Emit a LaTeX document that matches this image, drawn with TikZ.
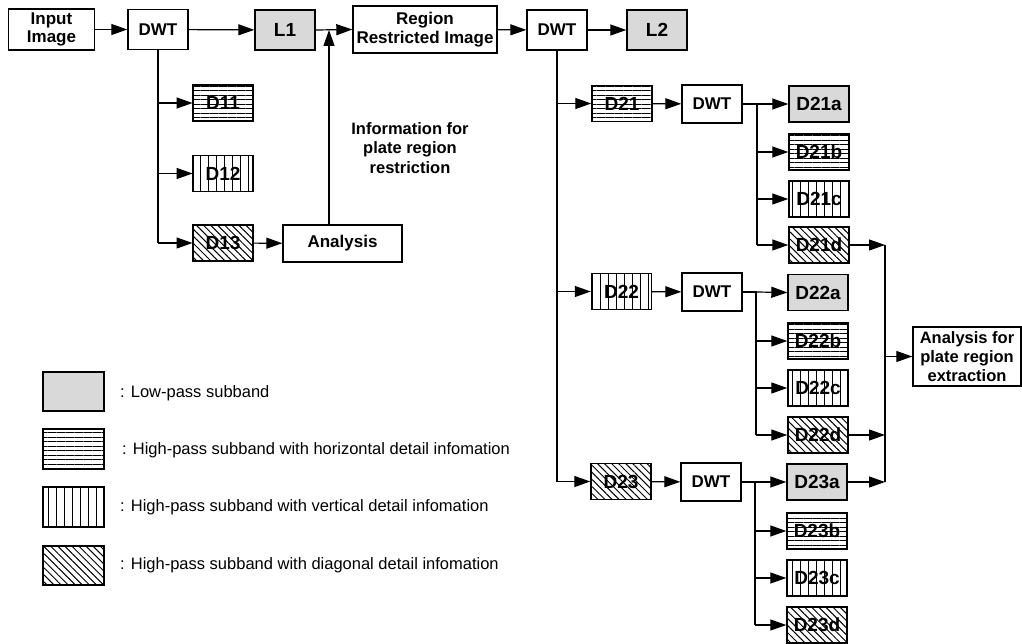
\documentclass[tikz,border=0pt]{standalone}
\usepackage{fontspec}
\setmainfont{Liberation Sans}
\usetikzlibrary{arrows.meta,patterns.meta}
\begin{document}
\begin{tikzpicture}[x=1pt,y=-1pt,
  box/.style={draw, line width=1.4pt, inner sep=0pt, align=center,
    font=\bfseries\fontsize{17}{18.5}\selectfont, fill=white},
  sub/.style={box, minimum width=60pt, minimum height=36pt, font=\bfseries\fontsize{19}{20}\selectfont},
  dwtbox/.style={box, minimum width=60pt, minimum height=38pt},
  lowp/.style={sub, fill=gray!30},
  hor/.style={sub, pattern={Lines[angle=0,distance=4.5pt,line width=0.8pt]}},
  ver/.style={sub, pattern={Lines[angle=90,distance=8pt,line width=0.8pt]}},
  diag/.style={sub, pattern={Lines[angle=-45,distance=5pt,line width=1pt]}},
  arr/.style={-{Triangle[length=16pt,width=11pt]}, line width=1.2pt},
  ln/.style={line width=1.2pt},
  legtext/.style={anchor=west, inner sep=0pt, font=\fontsize{16.5}{18}\selectfont},
  infotext/.style={align=center, inner sep=0pt, font=\bfseries\fontsize{16.5}{19.5}\selectfont}
]
\useasboundingbox (0,0) rectangle (1022,644);

% top row
\node[box, minimum width=86pt, minimum height=41pt] (in) at (51.5,29.5) {Input\\Image};
\node[dwtbox, minimum height=40pt] (dwt1) at (158,29.5) {DWT};
\node[lowp, minimum height=40pt] (l1) at (285,30) {L1};
\node[box, minimum width=144pt, minimum height=47pt] (reg) at (425,29.5) {Region\\Restricted Image};
\node[dwtbox, minimum height=40pt] (dwt2) at (557,30) {DWT};
\node[lowp, minimum height=40pt] (l2) at (657,30) {L2};

% first level details
\node[hor] (d11) at (223,103) {D11};
\node[ver] (d12) at (223,173.5) {D12};
\node[diag] (d13) at (223,243) {D13};
\node[box, minimum width=119pt, minimum height=37pt] (ana) at (342.5,243.5) {Analysis};
\node[infotext] (info) at (410,148) {Information for\\plate region\\restriction};
\coordinate (up) at (329,30);

% second level
\node[hor] (d21) at (622,103.5) {D21};
\node[dwtbox] (dwt3) at (712,104) {DWT};
\node[lowp] (d21a) at (819,104) {D21a};
\node[hor] (d21b) at (819,152) {D21b};
\node[ver] (d21c) at (819,199) {D21c};
\node[diag] (d21d) at (819,245) {D21d};

\node[ver] (d22) at (621.5,291.5) {D22};
\node[dwtbox] (dwt4) at (712,292) {DWT};
\node[lowp] (d22a) at (818,292.5) {D22a};
\node[hor] (d22b) at (818,341) {D22b};
\node[ver] (d22c) at (818,388) {D22c};
\node[diag] (d22d) at (818,435) {D22d};

\node[diag] (d23) at (621,481.5) {D23};
\node[dwtbox] (dwt5) at (711,482) {DWT};
\node[lowp] (d23a) at (817,482) {D23a};
\node[hor] (d23b) at (817,531) {D23b};
\node[ver] (d23c) at (817,578) {D23c};
\node[diag] (d23d) at (817,625) {D23d};

\node[box, minimum width=108pt, minimum height=59pt, font=\bfseries\fontsize{16.5}{19}\selectfont] (ext) at (967,356.5) {Analysis for\\plate region\\extraction};

\coordinate (j3) at (757,104);
\coordinate (j4) at (756,292);
\coordinate (j5) at (755,482);
\coordinate (cx) at (885,356.5);

% connectors top
\draw[arr] (in) -- (dwt1);
\draw[arr] (dwt1) -- (l1);
\draw[arr] (l1.east) -- (reg.west);
\draw[arr] (up |- ana.north) -- (up);
\draw[arr] (reg) -- (dwt2);
\draw[arr] (dwt2) -- (l2);

\draw[ln] (dwt1.south) -- (dwt1.south |- d13.west);
\draw[arr] (dwt1.south |- d11.west) -- (d11.west);
\draw[arr] (dwt1.south |- d12.west) -- (d12.west);
\draw[arr] (dwt1.south |- d13.west) -- (d13.west);
\draw[arr] (d13) -- (ana);

\draw[ln] (dwt2.south) -- (dwt2.south |- d23.west);
\draw[arr] (dwt2.south |- d21.west) -- (d21.west);
\draw[arr] (dwt2.south |- d22.west) -- (d22.west);
\draw[arr] (dwt2.south |- d23.west) -- (d23.west);
\draw[arr] (d21) -- (dwt3);
\draw[arr] (d22) -- (dwt4);
\draw[arr] (d23) -- (dwt5);

\draw[ln] (dwt3.east) -- (j3) -- (j3 |- d21d.west);
\draw[arr] (j3) -- (d21a.west);
\draw[arr] (j3 |- d21b.west) -- (d21b.west);
\draw[arr] (j3 |- d21c.west) -- (d21c.west);
\draw[arr] (j3 |- d21d.west) -- (d21d.west);

\draw[ln] (dwt4.east) -- (j4) -- (j4 |- d22d.west);
\draw[arr] (j4) -- (d22a.west);
\draw[arr] (j4 |- d22b.west) -- (d22b.west);
\draw[arr] (j4 |- d22c.west) -- (d22c.west);
\draw[arr] (j4 |- d22d.west) -- (d22d.west);

\draw[ln] (dwt5.east) -- (j5) -- (j5 |- d23d.west);
\draw[arr] (j5) -- (d23a.west);
\draw[arr] (j5 |- d23b.west) -- (d23b.west);
\draw[arr] (j5 |- d23c.west) -- (d23c.west);
\draw[arr] (j5 |- d23d.west) -- (d23d.west);

\draw[ln] (cx |- d21d.east) -- (cx |- d23a.east);
\draw[arr] (d21d.east) -- (cx |- d21d.east);
\draw[arr] (d22d.east) -- (cx |- d22d.east);
\draw[arr] (d23a.east) -- (cx |- d23a.east);
\draw[arr] (cx) -- (ext.west);

% legend
\node[lowp, minimum width=61pt, minimum height=39pt] (lg1) at (73.5,391.5) {};
\node[hor, minimum width=61pt, minimum height=40pt] (lg2) at (73.5,449) {};
\node[ver, minimum width=61pt, minimum height=40pt] (lg3) at (73.5,507) {};
\node[diag, minimum width=61pt, minimum height=39pt] (lg4) at (73.5,565.5) {};
\node[legtext] (t1) at (120,393) {: Low-pass subband};
\node[legtext] (t2) at (122,450) {: High-pass subband with horizontal detail infomation};
\node[legtext] (t3) at (120,507) {: High-pass subband with vertical detail infomation};
\node[legtext] (t4) at (120,565) {: High-pass subband with diagonal detail infomation};
\end{tikzpicture}
\end{document}
